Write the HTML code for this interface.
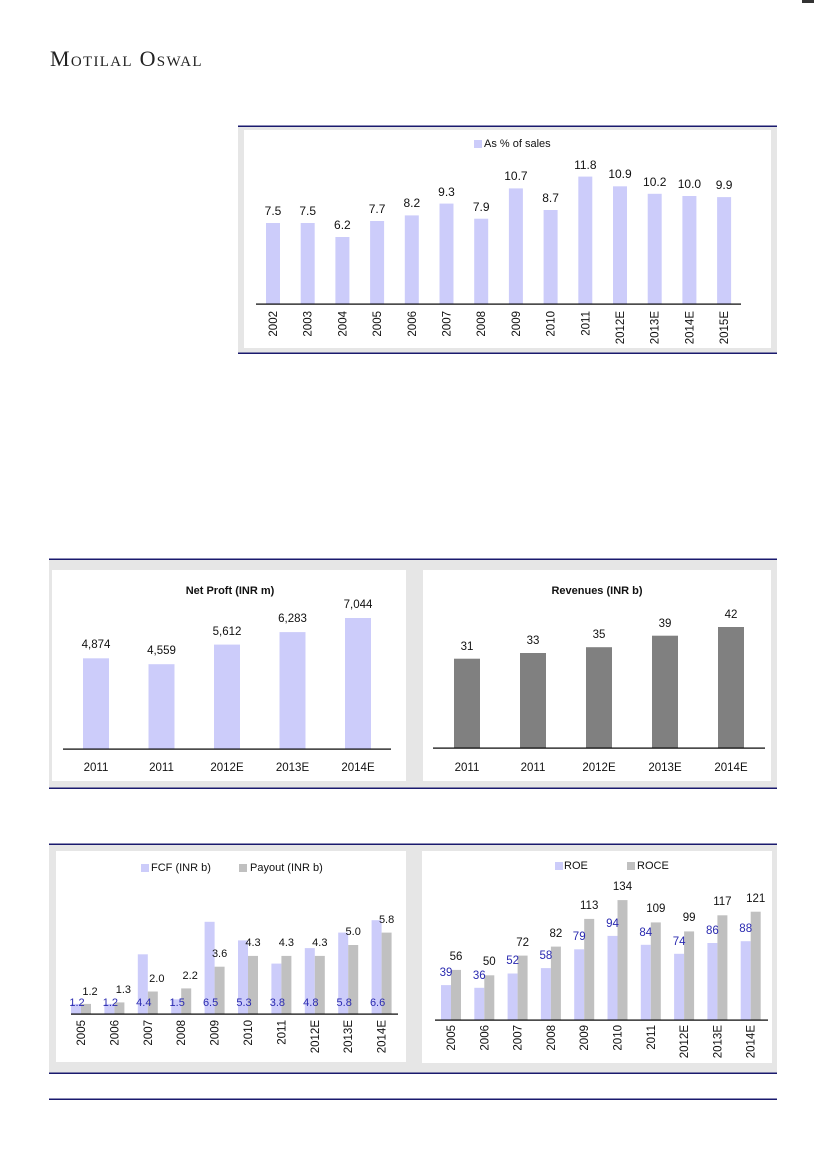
<!DOCTYPE html>
<html><head><meta charset="utf-8"><style>
html,body{margin:0;padding:0;background:#fff;}
body{width:826px;height:1169px;position:relative;overflow:hidden;}
svg{position:absolute;left:0;top:0;}
text{font-family:"Liberation Sans",sans-serif;}
</style></head><body>
<svg width="826" height="1169" viewBox="0 0 826 1169">
<text x="50" y="66" font-size="22" fill="#222" letter-spacing="1.3" style="font-family:'Liberation Serif',serif;font-variant:small-caps">Motilal Oswal</text>
<rect x="802" y="0" width="12" height="3" fill="#333"/>

<rect x="238" y="126" width="539" height="227" fill="#e6e6e6"/>
<rect x="238" y="125.5" width="539" height="1.5" fill="#1a1a6e"/>
<rect x="238" y="352.5" width="539" height="1.5" fill="#1a1a6e"/>
<rect x="244" y="130" width="527" height="218" fill="#fff"/>
<rect x="474" y="140" width="8" height="8" fill="#ccccfa"/>
<text x="484" y="147" font-size="11" fill="#111">As % of sales</text>
<g fill="#ccccfa">
<rect x="266" y="223" width="14" height="81"/><rect x="300.7" y="223" width="14" height="81"/><rect x="335.4" y="237" width="14" height="67"/><rect x="370.1" y="221" width="14" height="83"/><rect x="404.8" y="215.4" width="14" height="88.6"/><rect x="439.5" y="203.6" width="14" height="100.4"/><rect x="474.2" y="218.7" width="14" height="85.3"/><rect x="508.9" y="188.4" width="14" height="115.6"/><rect x="543.6" y="210" width="14" height="94"/><rect x="578.3" y="176.6" width="14" height="127.4"/><rect x="613" y="186.3" width="14" height="117.7"/><rect x="647.7" y="193.8" width="14" height="110.2"/><rect x="682.4" y="196" width="14" height="108"/><rect x="717.1" y="197.1" width="14" height="106.9"/>
</g>
<rect x="256" y="303.5" width="485" height="1.2" fill="#000"/>
<g font-size="12" fill="#111" text-anchor="middle">
<text x="273" y="215">7.5</text><text x="307.7" y="215">7.5</text><text x="342.4" y="229">6.2</text><text x="377.1" y="213">7.7</text><text x="411.8" y="207">8.2</text><text x="446.5" y="196">9.3</text><text x="481.2" y="211">7.9</text><text x="515.9" y="180">10.7</text><text x="550.6" y="202">8.7</text><text x="585.3" y="169">11.8</text><text x="620" y="178">10.9</text><text x="654.7" y="186">10.2</text><text x="689.4" y="188">10.0</text><text x="724.1" y="189">9.9</text>
</g>
<g font-size="11.5" fill="#111" text-anchor="end">
<text transform="translate(277,311) rotate(-90)">2002</text><text transform="translate(311.7,311) rotate(-90)">2003</text><text transform="translate(346.4,311) rotate(-90)">2004</text><text transform="translate(381.1,311) rotate(-90)">2005</text><text transform="translate(415.8,311) rotate(-90)">2006</text><text transform="translate(450.5,311) rotate(-90)">2007</text><text transform="translate(485.2,311) rotate(-90)">2008</text><text transform="translate(519.9,311) rotate(-90)">2009</text><text transform="translate(554.6,311) rotate(-90)">2010</text><text transform="translate(589.3,311) rotate(-90)">2011</text><text transform="translate(624,311) rotate(-90)">2012E</text><text transform="translate(658.7,311) rotate(-90)">2013E</text><text transform="translate(693.4,311) rotate(-90)">2014E</text><text transform="translate(728.1,311) rotate(-90)">2015E</text>
</g>

<rect x="49" y="559" width="728" height="229" fill="#e6e6e6"/>
<rect x="49" y="558.5" width="728" height="1.5" fill="#1a1a6e"/>
<rect x="49" y="787.5" width="728" height="1.5" fill="#1a1a6e"/>
<rect x="52" y="570" width="354" height="211" fill="#fff"/>
<rect x="423" y="570" width="348" height="211" fill="#fff"/>
<text x="230" y="594" font-size="11" font-weight="bold" fill="#111" text-anchor="middle">Net Proft (INR m)</text>
<g fill="#ccccfa">
<rect x="83" y="658.3" width="26" height="90.7"/><rect x="148.5" y="664.2" width="26" height="84.8"/><rect x="214" y="644.6" width="26" height="104.4"/><rect x="279.5" y="632.1" width="26" height="116.9"/><rect x="345" y="618" width="26" height="131"/>
</g>
<rect x="63" y="748.5" width="328" height="1.2" fill="#000"/>
<g font-size="11.5" fill="#111" text-anchor="middle">
<text x="96" y="648">4,874</text><text x="161.5" y="654">4,559</text><text x="227" y="635">5,612</text><text x="292.5" y="622">6,283</text><text x="358" y="608">7,044</text>
<text x="96" y="771">2011</text><text x="161.5" y="771">2011</text><text x="227" y="771">2012E</text><text x="292.5" y="771">2013E</text><text x="358" y="771">2014E</text>
</g>
<text x="597" y="594" font-size="11" font-weight="bold" fill="#111" text-anchor="middle">Revenues (INR b)</text>
<g fill="#808080">
<rect x="454" y="658.7" width="26" height="89.3"/><rect x="520" y="653" width="26" height="95"/><rect x="586" y="647.2" width="26" height="100.8"/><rect x="652" y="635.7" width="26" height="112.3"/><rect x="718" y="627" width="26" height="121"/>
</g>
<rect x="433" y="747.5" width="332" height="1.2" fill="#000"/>
<g font-size="11.5" fill="#111" text-anchor="middle">
<text x="467" y="650">31</text><text x="533" y="644">33</text><text x="599" y="638">35</text><text x="665" y="627">39</text><text x="731" y="618">42</text>
<text x="467" y="771">2011</text><text x="533" y="771">2011</text><text x="599" y="771">2012E</text><text x="665" y="771">2013E</text><text x="731" y="771">2014E</text>
</g>

<rect x="49" y="844" width="728" height="229" fill="#e6e6e6"/>
<rect x="49" y="843.5" width="728" height="1.5" fill="#1a1a6e"/>
<rect x="49" y="1072.5" width="728" height="1.5" fill="#1a1a6e"/>
<rect x="49" y="1098.5" width="728" height="1.5" fill="#1a1a6e"/>
<rect x="56" y="851" width="350" height="211" fill="#fff"/>
<rect x="422" y="851" width="350" height="212" fill="#fff"/>

<rect x="141" y="864" width="8" height="8" fill="#ccccfa"/>
<text x="151" y="871" font-size="11" fill="#111">FCF (INR b)</text>
<rect x="239" y="864" width="8" height="8" fill="#c0c0c0"/>
<text x="250" y="871" font-size="11" fill="#111">Payout (INR b)</text>
<g fill="#ccccfa">
<rect x="71" y="1003.9" width="10" height="10.1"/><rect x="104.4" y="1003.9" width="10" height="10.1"/><rect x="137.8" y="954.3" width="10" height="59.7"/><rect x="171.2" y="999.3" width="10" height="14.7"/><rect x="204.6" y="921.8" width="10" height="92.2"/><rect x="238" y="940.4" width="10" height="73.6"/><rect x="271.4" y="963.6" width="10" height="50.4"/><rect x="304.8" y="948.1" width="10" height="65.9"/><rect x="338.2" y="932.6" width="10" height="81.4"/><rect x="371.6" y="920.2" width="10" height="93.8"/>
</g>
<g fill="#c0c0c0">
<rect x="81" y="1003.9" width="10" height="10.1"/><rect x="114.4" y="1002.4" width="10" height="11.6"/><rect x="147.8" y="991.5" width="10" height="22.5"/><rect x="181.2" y="988.4" width="10" height="25.6"/><rect x="214.6" y="966.7" width="10" height="47.3"/><rect x="248" y="955.9" width="10" height="58.1"/><rect x="281.4" y="955.9" width="10" height="58.1"/><rect x="314.8" y="955.9" width="10" height="58.1"/><rect x="348.2" y="945" width="10" height="69"/><rect x="381.6" y="932.6" width="10" height="81.4"/>
</g>
<rect x="71" y="1013.5" width="327" height="1.2" fill="#000"/>
<g font-size="11" fill="#2a2ab0" text-anchor="middle">
<text x="77" y="1006">1.2</text><text x="110.4" y="1006">1.2</text><text x="143.8" y="1006">4.4</text><text x="177.2" y="1006">1.5</text><text x="210.6" y="1006">6.5</text><text x="244" y="1006">5.3</text><text x="277.4" y="1006">3.8</text><text x="310.8" y="1006">4.8</text><text x="344.2" y="1006">5.8</text><text x="377.6" y="1006">6.6</text>
</g>
<g font-size="11" fill="#111" text-anchor="middle">
<text x="90" y="995">1.2</text><text x="123.4" y="993">1.3</text><text x="156.8" y="982">2.0</text><text x="190.2" y="979">2.2</text><text x="219.6" y="957">3.6</text><text x="253" y="946">4.3</text><text x="286.4" y="946">4.3</text><text x="319.8" y="946">4.3</text><text x="353.2" y="935">5.0</text><text x="386.6" y="923">5.8</text>
</g>
<g font-size="11.5" fill="#111" text-anchor="end">
<text transform="translate(85,1020) rotate(-90)">2005</text><text transform="translate(118.4,1020) rotate(-90)">2006</text><text transform="translate(151.8,1020) rotate(-90)">2007</text><text transform="translate(185.2,1020) rotate(-90)">2008</text><text transform="translate(218.6,1020) rotate(-90)">2009</text><text transform="translate(252,1020) rotate(-90)">2010</text><text transform="translate(285.4,1020) rotate(-90)">2011</text><text transform="translate(318.8,1020) rotate(-90)">2012E</text><text transform="translate(352.2,1020) rotate(-90)">2013E</text><text transform="translate(385.6,1020) rotate(-90)">2014E</text>
</g>

<rect x="555" y="862" width="8" height="8" fill="#ccccfa"/>
<text x="564" y="869" font-size="11" fill="#111">ROE</text>
<rect x="627" y="862" width="8" height="8" fill="#c0c0c0"/>
<text x="637" y="869" font-size="11" fill="#111">ROCE</text>
<g fill="#ccccfa">
<rect x="441" y="985.1" width="10" height="34.9"/><rect x="474.3" y="987.8" width="10" height="32.2"/><rect x="507.6" y="973.5" width="10" height="46.5"/><rect x="540.9" y="968.1" width="10" height="51.9"/><rect x="574.2" y="949.3" width="10" height="70.7"/><rect x="607.5" y="935.9" width="10" height="84.1"/><rect x="640.8" y="944.8" width="10" height="75.2"/><rect x="674.1" y="953.8" width="10" height="66.2"/><rect x="707.4" y="943" width="10" height="77"/><rect x="740.7" y="941.2" width="10" height="78.8"/>
</g>
<g fill="#c0c0c0">
<rect x="451" y="969.9" width="10" height="50.1"/><rect x="484.3" y="975.3" width="10" height="44.7"/><rect x="517.6" y="955.6" width="10" height="64.4"/><rect x="550.9" y="946.6" width="10" height="73.4"/><rect x="584.2" y="918.9" width="10" height="101.1"/><rect x="617.5" y="900.1" width="10" height="119.9"/><rect x="650.8" y="922.4" width="10" height="97.6"/><rect x="684.1" y="931.4" width="10" height="88.6"/><rect x="717.4" y="915.3" width="10" height="104.7"/><rect x="750.7" y="911.7" width="10" height="108.3"/>
</g>
<rect x="435" y="1019.5" width="333" height="1.2" fill="#000"/>
<g font-size="11.5" fill="#2a2ab0" text-anchor="middle">
<text x="446" y="976">39</text><text x="479.3" y="979">36</text><text x="512.6" y="964">52</text><text x="545.9" y="959">58</text><text x="579.2" y="940">79</text><text x="612.5" y="927">94</text><text x="645.8" y="936">84</text><text x="679.1" y="945">74</text><text x="712.4" y="934">86</text><text x="745.7" y="932">88</text>
</g>
<g font-size="11.5" fill="#111" text-anchor="middle">
<text x="456" y="960">56</text><text x="489.3" y="965">50</text><text x="522.6" y="946">72</text><text x="555.9" y="937">82</text><text x="589.2" y="909">113</text><text x="622.5" y="890">134</text><text x="655.8" y="912">109</text><text x="689.1" y="921">99</text><text x="722.4" y="905">117</text><text x="755.7" y="902">121</text>
</g>
<g font-size="11.5" fill="#111" text-anchor="end">
<text transform="translate(455,1025) rotate(-90)">2005</text><text transform="translate(488.3,1025) rotate(-90)">2006</text><text transform="translate(521.6,1025) rotate(-90)">2007</text><text transform="translate(554.9,1025) rotate(-90)">2008</text><text transform="translate(588.2,1025) rotate(-90)">2009</text><text transform="translate(621.5,1025) rotate(-90)">2010</text><text transform="translate(654.8,1025) rotate(-90)">2011</text><text transform="translate(688.1,1025) rotate(-90)">2012E</text><text transform="translate(721.4,1025) rotate(-90)">2013E</text><text transform="translate(754.7,1025) rotate(-90)">2014E</text>
</g>
</svg>
</body></html>
